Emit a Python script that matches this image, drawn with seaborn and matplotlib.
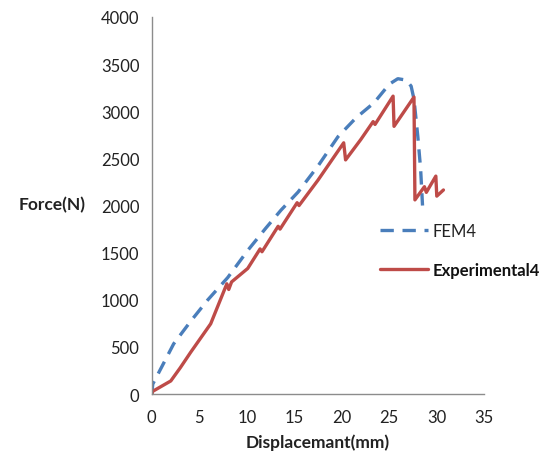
import numpy as np
import pandas as pd
import matplotlib
matplotlib.use("Agg")
import matplotlib.pyplot as plt
import seaborn as sns

# values
fem_x = [0.0, 0.1, 1.0, 2.3, 4.1, 5.9, 8.0, 10.1, 12.0, 13.6, 15.4, 17.5, 19.6,
         21.5, 23.4, 25.0, 25.9, 26.8, 27.3, 27.6, 28.0, 28.3, 28.5]
fem_y = [0, 106, 280, 533, 774, 1000, 1237, 1524, 1760, 1951, 2143, 2420, 2730,
         2930, 3090, 3287, 3345, 3330, 3266, 3128, 2736, 2386, 2000]

exp_x = [0.0, 0.1, 2.0, 3.0, 4.1, 6.2, 7.9, 8.1, 8.4, 10.1, 11.4, 11.6, 13.3, 13.5,
         15.3, 15.5, 17.5, 20.2, 20.4, 22.0, 23.3, 23.5, 25.4, 25.5, 27.6, 27.7,
         28.7, 28.9, 29.9, 30.0, 30.7]
exp_y = [0, 30, 140, 280, 445, 746, 1170, 1110, 1190, 1333, 1540, 1510, 1780, 1750,
         2030, 2000, 2270, 2665, 2484, 2700, 2890, 2860, 3160, 2840, 3150, 2060,
         2200, 2140, 2312, 2100, 2165]

fem = pd.DataFrame({"x": fem_x, "y": fem_y, "series": "FEM4"})
exp = pd.DataFrame({"x": exp_x, "y": exp_y, "series": "Experimental4"})

sns.set_style("white")
plt.rcParams["font.family"] = ["Lato", "DejaVu Sans"]

fig = plt.figure(figsize=(5.56, 4.6), dpi=100)
ax = fig.add_axes([0.273, 0.141, 0.598, 0.820])

sns.lineplot(data=fem, x="x", y="y", sort=False, estimator=None, ax=ax,
             color="#4A7EBB", linewidth=2.4, dashes=False, label="FEM4")
ax.lines[-1].set_dashes([4, 2.6])
sns.lineplot(data=exp, x="x", y="y", sort=False, estimator=None, ax=ax,
             color="#BE4B48", linewidth=2.4, label="Experimental4")

ax.set_xlim(0, 35)
ax.set_ylim(0, 4000)
ax.set_xticks(range(0, 36, 5))
ax.set_yticks(range(0, 4001, 500))

grey = "#8C8C8C"
for s in ["top", "right"]:
    ax.spines[s].set_visible(False)
for s in ["left", "bottom"]:
    ax.spines[s].set_color(grey)
    ax.spines[s].set_linewidth(1.0)
ax.tick_params(axis="both", direction="out", length=5, width=1, color=grey,
               labelsize=12, labelcolor="#222222", pad=4)
ax.tick_params(axis="x", pad=6)

ax.set_xlabel("Displacemant(mm)", fontsize=12.5, fontweight="bold", color="#222222", labelpad=6)
ax.set_ylabel("")
fig.text(0.033, (460 - 205) / 460, "Force(N)", fontsize=12.5, fontweight="bold",
         color="#222222", va="center", ha="left")

leg = ax.legend(loc="upper left", bbox_to_anchor=(0.685, 0.455), frameon=False,
                fontsize=12, handlelength=2.9, handletextpad=0.3, labelspacing=1.4,
                borderpad=0, borderaxespad=0)
leg.get_texts()[0].set_color("#222222")
leg.get_texts()[1].set_fontweight("bold")
leg.get_texts()[1].set_color("#111111")

fig.savefig("out.png", dpi=100)
